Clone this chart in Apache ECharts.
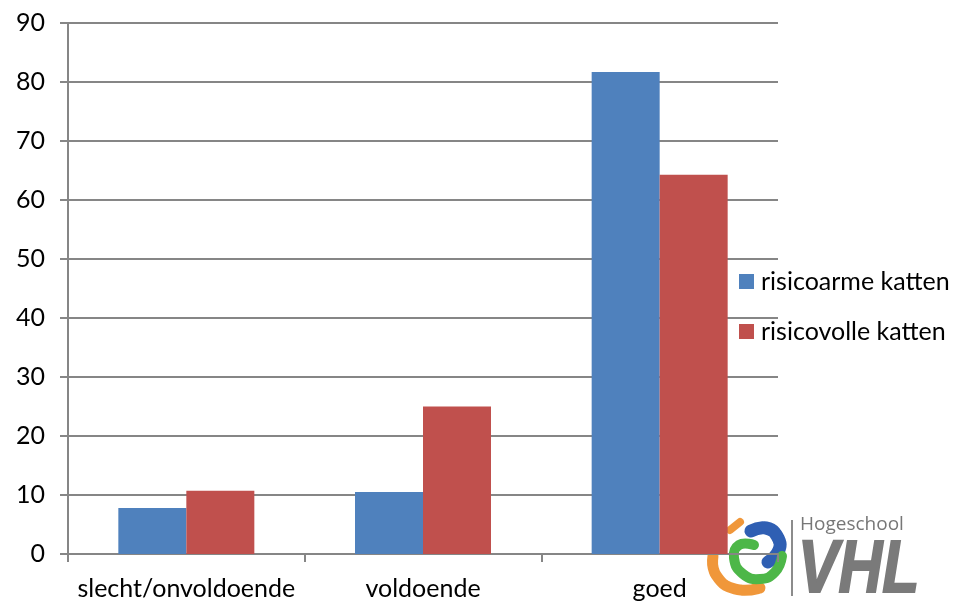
<!DOCTYPE html>
<html><head><meta charset="utf-8">
<style>html,body{margin:0;padding:0;background:#fff}#c{width:954px;height:602px}</style>
<script src="https://cdn.jsdelivr.net/npm/echarts@6/dist/echarts.min.js"></script>
</head><body><div id="c"></div>
<script>
const categories = ['slecht/onvoldoende','voldoende','goed'];
const risicoarme = [7.8,10.5,81.7];
const risicovolle = [10.7,25,64.3];
const yMax = 90, yStep = 10;
const font = 'Lato,"Open Sans",sans-serif';
const fs = 25;
const chart = echarts.init(document.getElementById('c'),null,{renderer:'canvas'});
chart.setOption({
  animation:false,
  backgroundColor:'#fff',
  textStyle:{fontFamily:font},
  grid:{left:68,right:176,top:23,bottom:48},
  legend:{orient:'vertical',left:734,top:264,itemWidth:15,itemHeight:15,itemGap:25,icon:'rect',
    textStyle:{fontFamily:font,fontSize:fs,color:'#000',padding:[0,0,0,2],lineHeight:24},
    data:['risicoarme katten','risicovolle katten']},
  xAxis:{type:'category',data:categories,
    axisLine:{lineStyle:{color:'#868686',width:2}},
    axisTick:{show:true,length:8,interval:0,lineStyle:{color:'#868686',width:2}},
    axisLabel:{fontFamily:font,fontSize:fs,color:'#000',margin:22,interval:0}},
  yAxis:{type:'value',min:0,max:yMax,interval:yStep,
    axisLine:{show:true,lineStyle:{color:'#868686',width:2}},
    axisTick:{show:true,length:8,lineStyle:{color:'#868686',width:2}},
    splitLine:{lineStyle:{color:'#868686',width:2}},
    axisLabel:{fontFamily:font,fontSize:fs,color:'#000',margin:23}},
  series:[
    {name:'risicoarme katten',type:'bar',data:risicoarme,barWidth:68,barGap:'0%',itemStyle:{color:'#4F81BD'},z:5},
    {name:'risicovolle katten',type:'bar',data:risicovolle,barWidth:68,barGap:'0%',itemStyle:{color:'#C0504D'},z:5}
  ],
  graphic:[
    {type:'polyline',z:-1,silent:true,shape:{smooth:0.5,points:[[740,522],[730,530]]},style:{stroke:'#F0973A',lineWidth:8,fill:null,lineCap:'round'}},
    {type:'polyline',z:-1,silent:true,shape:{smooth:0.5,points:[[713,556],[716,575],[735,589],[760,588]]},style:{stroke:'#F0973A',lineWidth:11,fill:null,lineCap:'round',lineDash:[16,1]}},
    {type:'polyline',z:-1,silent:true,shape:{smooth:0.5,points:[[751,531],[766,528],[777,536],[779,550],[768,562]]},style:{stroke:'#2F5FB3',lineWidth:13,fill:null,lineCap:'round',lineDash:[12,1.5]}},
    {type:'polyline',z:-1,silent:true,shape:{smooth:0.5,points:[[754,545],[739,545],[734,558],[743,574],[760,579],[775,572],[782,556]]},style:{stroke:'#4DB748',lineWidth:10,fill:null,lineCap:'round'}},
    {type:'rect',z:-1,silent:true,shape:{x:791,y:520,width:2,height:76},style:{fill:'#8c8c8c'}},
    {type:'text',z:-1,silent:true,x:800,y:515,style:{text:'Hogeschool',fontFamily:'"Open Sans",sans-serif',fontSize:19,fill:'#777'}},
    {type:'text',z:-1,silent:true,x:798,y:535,scaleX:0.82,style:{text:'VHL',fontFamily:'"Liberation Sans",sans-serif',fontSize:74,fontWeight:'bold',fontStyle:'italic',fill:'#7a7a7a',stroke:'#7a7a7a',lineWidth:2}}
  ]
});
</script></body></html>
